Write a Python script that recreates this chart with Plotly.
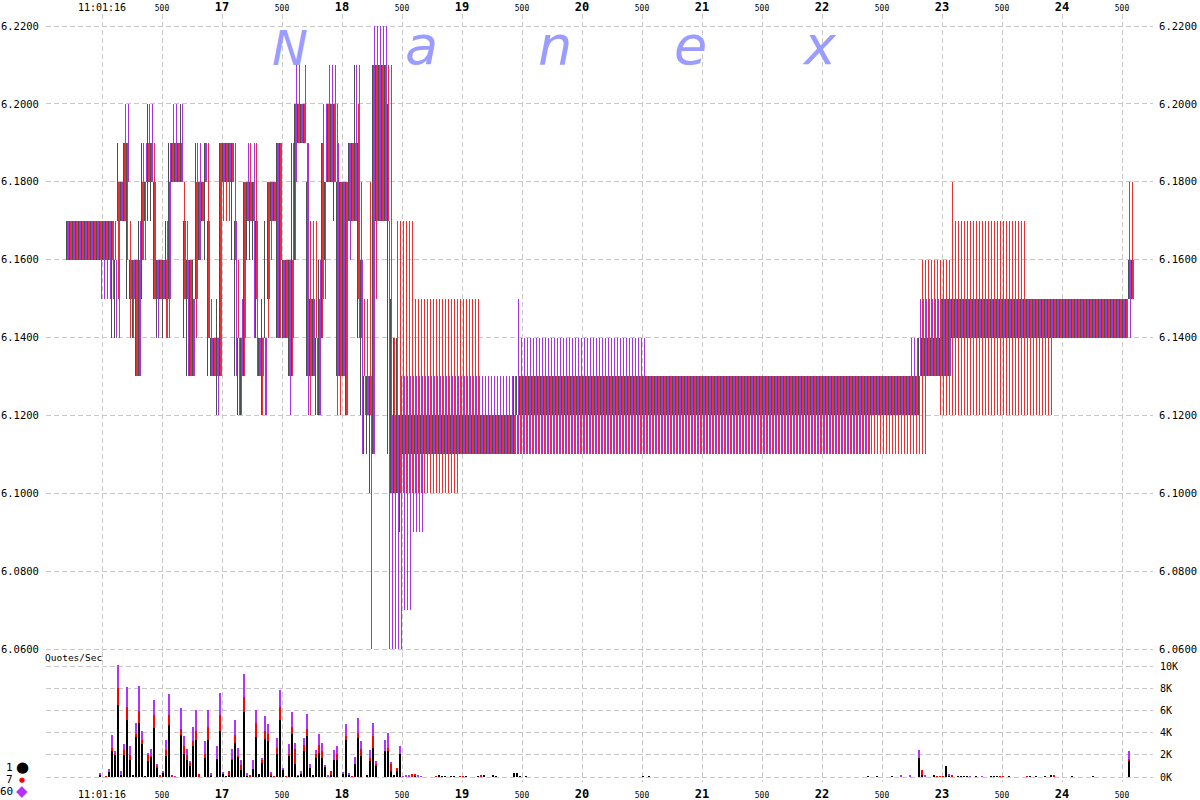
import plotly.graph_objects as go

# ---- price data, in cents above $6.00, one 25 ms bucket per entry -----------
# opening stretch: (bucket count, low, high)
GRAY_OPEN = [(15,16,17)]
RED_OPEN = [(15,16,17)]
PURPLE_OPEN = [(11,16,17),(4,15,17)]

# busy stretch, bucket by bucket: gray low, high, red low, high, purple low, high
BUSY = [
 (14,17,16,17,15,17),(14,16,16,17,14,16),(17,19,15,18,14,18),(17,18,17,18,17,18),(17,19,17,19,17,20),(15,19,16,19,18,20),
 (15,16,14,17,15,16),(14,16,14,16,15,16),(13,16,13,16,13,16),(13,17,13,16,13,17),(15,19,16,18,16,19),(17,18,16,18,18,19),
 (17,20,18,19,18,20),(17,19,18,19,18,20),(15,18,15,19,15,18),(14,16,15,16,14,16),(15,16,15,16,15,16),(14,16,15,16,15,16),
 (15,17,14,16,14,17),(15,19,14,18,15,19),(18,19,18,19,18,20),(18,19,18,19,18,20),(18,19,18,19,18,19),(18,20,18,19,18,20),
 (14,17,15,18,15,17),(13,16,15,17,13,16),(13,16,13,16,13,16),(13,16,13,15,13,15),(15,19,14,18,15,19),(16,18,16,18,16,19),
 (17,18,17,18,17,18),(16,19,18,19,18,19),(13,17,14,19,14,17),(13,14,13,15,13,14),(13,14,13,14,13,14),(12,15,13,14,12,14),
 (13,19,13,19,13,19),(18,19,17,19,18,19),(18,19,17,19,18,19),(18,19,17,19,18,19),(16,19,18,19,18,19),(13,17,16,19,13,17),
 (12,14,14,16,12,14),(12,14,12,14,13,15),(13,18,13,18,14,18),(16,18,17,18,17,19),(16,18,17,19,17,18),(16,18,17,18,14,19),
 (14,17,15,19,13,17),(13,14,13,14,13,14),(12,15,12,14,13,14),(14,17,12,14,12,14),(15,18,14,18,15,18),(17,18,16,18,17,18),
 (17,18,17,18,17,18),(14,19,14,19,14,19),(14,19,14,19,16,19),(14,16,14,16,14,16),(14,16,14,16,14,16),(13,16,13,16,12,16),
 (13,19,13,16,14,19),(16,20,16,20,18,21),(19,20,19,20,19,21),(19,20,19,20,19,20),(19,20,19,20,19,21),(13,18,13,19,12,19),
 (13,15,12,17,13,15),(13,15,13,17,13,15),(12,14,14,17,12,14),(12,16,12,15,12,16),(14,19,14,19,15,20),(16,18,15,18,18,20),
 (18,20,18,20,18,21),(18,20,18,20,18,21),(17,20,18,20,18,21),(13,18,12,20,13,19),(13,18,12,18,13,18),(13,18,13,18,13,18),
 (12,18,12,18,12,18),(17,19,17,19,16,19),(17,19,17,19,17,19),(17,21,17,19,17,21),(14,19,15,20,14,21),(12,16,14,18,11,16),
 (11,13,13,15,12,13),(11,13,12,15,12,13),(10,13,12,18,6,13),(11,21,11,21,11,22),(17,21,15,21,17,22),(17,21,17,21,17,22),
 (17,21,17,21,17,22),(17,21,17,21,17,22),(11,20,17,21,6,17),(10,15,10,21,6,12),(10,14,10,14,6,12),(10,14,10,17,6,12),
 (9,12,10,17,6,13)]

# quiet stretch: (bucket count, low, high)
GRAY_REST = [(37,11,12),(1,11,13),(134,12,13),(1,12,14),(7,13,14),(3,13,15),(59,14,15),(2,15,16)]
RED_REST = [(4,10,17),(15,10,15),(7,11,15),(13,11,12),(134,11,13),(2,11,16),(4,13,16),(4,12,16),(1,12,18),(24,12,17),(9,12,15),(25,14,15),(2,15,18)]
PURPLE_REST = [(3,7,13),(4,9,13),(31,11,13),(1,11,15),(42,11,14),(75,11,13),(13,12,13),(3,12,14),(8,13,15),(3,13,15),(59,14,15),(1,14,16),(1,15,16)]

# ---- quotes per second, in thousands: (bucket, black, red, purple) ----------
QUOTES = [(11,.2,0,.1),(13,0,.08,0),(14,.45,0,.3),(15,2.3,.3,1.15),(16,2.0,.05,.3),(17,6.5,1.55,2.05),(18,.2,0,.3),(19,2.0,.45,.55),(20,5.1,1.2,1.85),
 (21,1.5,.5,.8),(22,.2,0,0),(23,3.6,.3,1.0),(24,4.85,1.1,2.25),(25,3.0,.35,.8),(26,.08,0,0),(27,1.4,.6,.1),(28,1.85,.05,.65),(29,4.45,1.15,1.35),
 (30,.85,.15,.2),(31,.08,.1,0),(32,.35,0,.2),(33,1.9,.55,.9),(34,4.7,.9,1.9),(35,0,.1,0),(36,0,0,.05),(38,3.8,.55,1.9),(39,2.1,.65,.9),(40,1.55,.45,.55),
 (41,.95,.35,.1),(42,2.75,.45,1.35),(43,3.35,.8,1.9),(44,0,.3,0),(46,1.75,.35,1.15),(47,3.35,1.15,1.55),(48,.1,.1,.2),(50,1.65,0,1.1),(51,4.1,1.45,2.05),
 (52,.3,0,.1),(53,.08,0,0),(54,.2,.35,0),(55,1.6,.05,.9),(56,3.1,.7,1.35),(57,1.85,.05,.7),(58,.65,.45,.45),(59,5.9,1.35,2.05),(60,.1,0,.25),(61,0,.2,0),
 (62,.75,0,.8),(63,3.6,1.25,1.15),(64,.3,0,0),(65,1.25,.3,.2),(66,3.4,.75,1.35),(67,3.2,.7,.9),(68,.08,.25,.1),(69,0,.08,0),(70,2.1,.55,.9),(71,5.1,1.25,1.45),
 (72,.65,0,.2),(73,0,.08,0),(74,1.85,.25,.9),(75,3.9,.65,1.35),(76,1.2,1.35,.55),(77,.1,0,.08),(78,.3,0,.2),(79,2.3,.55,.7),(80,3.65,.65,1.35),(81,.85,0,.3),
 (82,.1,0,0),(83,1.75,.35,.35),(84,2.2,.65,1.0),(85,1.75,.55,.8),(86,.95,0,.1),(87,.08,0,.1),(88,.2,.35,0),(89,1.5,0,.9),(90,1.55,.55,.65),(92,.3,0,.1),
 (93,3.35,.3,1.15),(94,.2,0,.1),(95,0,.08,0),(96,1.2,0,.6),(97,3.5,.45,1.35),(98,1.9,.65,.65),(100,.2,0,0),(101,1.4,.35,.7),(102,2.65,1.0,1.25),(103,.95,.25,.2),
 (106,2.35,0,1.0),(107,2.35,.3,1.35),(108,.55,.65,.1),(109,.1,0,0),(110,.5,.35,0),(111,2.1,0,.7),(112,0,0,.08),(113,.08,0,.08),(114,0,0,.1),(115,0,.3,0),
 (116,.1,.2,0),(117,.08,0,.08),(118,0,0,.08),(123,0,.08,0),(124,.1,0,0),(125,.08,0,0),(126,.08,0,0),(128,.08,0,0),(129,.08,0,0),(131,0,.08,0),(132,0,.08,0),
 (133,.08,0,0),(137,.08,0,0),(138,0,.1,0),(139,.1,0,0),(142,.1,0,0),(143,.08,0,0),(149,.35,0,0),(150,.35,0,0),(151,.08,0,0),(153,.08,0,0),(192,.08,0,0),(194,.08,0,0),
 (267,.08,0,0),(270,.08,0,0),(275,.08,0,0),(278,.08,0,.08),(281,.08,0,.08),(284,1.75,0,.7),(285,.2,.4,0),(286,.08,0,.1),(289,.2,0,0),(290,0,.08,0),(291,0,.08,0),
 (292,0,.08,0),(293,.95,0,0),(294,.1,0,.2),(295,0,.2,0),(297,.08,0,0),(298,.08,0,0),(299,.08,0,0),(300,.08,0,0),(301,0,0,.08),(303,.08,0,0),(305,0,0,.08),
 (308,.08,0,0),(309,.08,0,0),(310,.08,0,0),(311,0,.08,0),(312,0,.08,0),(314,.08,0,0),(320,0,.08,0),(321,.08,0,0),(323,.08,0,0),(326,.08,0,0),(328,.15,0,0),
 (329,0,.1,0),(335,.08,0,0),(342,.08,0,0),(354,1.45,.2,.7)]

PRICE_TICKS = [6.06,6.08,6.10,6.12,6.14,6.16,6.18,6.20,6.22]
QUOTE_TICKS = [0,2,4,6,8,10]
TIME_TICKS = [16+0.5*k for k in range(18)]
TIME_LABELS = ["11:01:16"]
for sec in range(16,25):
    if sec > 16:
        TIME_LABELS.append(str(sec))
    TIME_LABELS.append("500")
LOGO_LETTERS = ["N","a","n","e","x"]
LEGEND_LABELS = ["1","7","60"]

T0, STEP = 15.7, 0.025     # first bucket time, bucket length (s)
PX = 1/120                 # seconds covered by one screen pixel column

def expand(runs):
    lo, hi = [], []
    for n, a, b in runs:
        lo += [a]*n
        hi += [b]*n
    return lo, hi

fig = go.Figure()
SERIES = [(GRAY_OPEN,GRAY_REST,"#4a5050"),(RED_OPEN,RED_REST,"#e63232"),(PURPLE_OPEN,PURPLE_REST,"#a832e6")]
for k, (op, rest, col) in enumerate(SERIES):
    l0, h0 = expand(op)
    l1, h1 = expand(rest)
    lo = l0 + [row[2*k] for row in BUSY] + l1
    hi = h0 + [row[2*k+1] for row in BUSY] + h1
    fig.add_trace(go.Bar(
        x=[T0+STEP*i for i in range(len(lo))],
        y=[(b-a)/100 for a,b in zip(lo,hi)], base=[6+a/100 for a in lo],
        width=PX, offset=k*PX, marker=dict(color=col, line=dict(width=0)),
        hoverinfo="skip", showlegend=False, xaxis="x", yaxis="y"))

xs = [T0+STEP*q[0] for q in QUOTES]
Q_BLACK = [q[1] for q in QUOTES]
Q_RED = [q[2] for q in QUOTES]
Q_PURPLE = [q[3] for q in QUOTES]
b1 = [a+b for a,b in zip(Q_BLACK,Q_RED)]
for vals, base, col in [(Q_BLACK,[0]*len(xs),"#000000"),(Q_RED,Q_BLACK,"#ff0000"),(Q_PURPLE,b1,"#b432ff")]:
    fig.add_trace(go.Bar(x=xs, y=vals, base=base, width=2*PX, offset=0,
        marker=dict(color=col, line=dict(width=0)), hoverinfo="skip", showlegend=False, xaxis="x", yaxis="y2"))

# invisible trace that keeps the top time axis and right price axis on the page
fig.add_trace(go.Scatter(x=[TIME_TICKS[0]], y=[PRICE_TICKS[-1]], mode="markers", marker=dict(opacity=0),
                         hoverinfo="skip", showlegend=False, xaxis="x2", yaxis="y3"))

W, H = 1200, 800
L, R, T, B = 46, 47, 14, 18
PW, PH = W-L-R, H-T-B
SPLIT = 652
def pxx(p): return (p-L)/PW
def pxy(p): return (H-B-p)/PH

xr = [16-(102-L)*PX, 16+(W-R-102)*PX]
per_px = 0.16/623
yr = [6.22-(SPLIT-26)*per_px, 6.22+(26-T)*per_px]
y2r = [-(H-B-777)/11.1, (777-SPLIT)/11.1]

GRID = "#c8c8c8"
CLEAR = "rgba(0,0,0,0)"
mono = "DejaVu Sans Mono"
def fmt_time(s):
    if s == "500": return '<span style="font-size:8px">500</span>'
    if ":" in s: return s
    return '<b style="font-size:12px">%s</b>' % s
ticktext = [fmt_time(s) for s in TIME_LABELS]
xcommon = dict(range=xr, tickmode="array", tickvals=TIME_TICKS, ticktext=ticktext, automargin=False,
               tickfont=dict(family=mono, size=10, color="#000"), zeroline=False, showline=False)
price_text = ["%.4f"%v for v in PRICE_TICKS]

fig.update_layout(
    template="none",
    width=W, height=H, autosize=False, barmode="overlay", bargap=0,
    margin=dict(l=L, r=R, t=T, b=B, pad=0),
    plot_bgcolor="#fff", paper_bgcolor="#fff", showlegend=False, hovermode=False,
    xaxis=dict(showgrid=True, gridcolor=GRID, griddash="5px,3px", gridwidth=1, anchor="y2", side="bottom",
               ticks="outside", ticklen=3, tickcolor=CLEAR, **xcommon),
    xaxis2=dict(showgrid=False, overlaying="x", side="top", anchor="y3", ticks="", **xcommon),
    yaxis=dict(domain=[pxy(SPLIT),1], range=yr, tickmode="array", tickvals=PRICE_TICKS, ticktext=price_text,
               showgrid=True, gridcolor=GRID, griddash="5px,3px", zeroline=False, ticks="outside", ticklen=4, tickcolor=CLEAR, automargin=False,
               tickfont=dict(family=mono, size=10.5, color="#000"), side="left", anchor="x"),
    yaxis3=dict(overlaying="y", range=yr, tickmode="array", tickvals=PRICE_TICKS, ticktext=price_text,
               showgrid=False, zeroline=False, ticks="outside", ticklen=3, tickcolor=CLEAR, automargin=False,
               tickfont=dict(family=mono, size=10.5, color="#000"), side="right", anchor="x2"),
    yaxis2=dict(domain=[0,pxy(SPLIT)], range=y2r, tickmode="array", tickvals=QUOTE_TICKS, ticktext=["%dK"%v for v in QUOTE_TICKS],
               showgrid=True, gridcolor=GRID, griddash="5px,3px", zeroline=False, ticks="outside", ticklen=4, tickcolor=CLEAR, automargin=False,
               tickfont=dict(family=mono, size=10, color="#000"), side="right", anchor="x"),
)

anns = []
for letter, px, sz, py in zip(LOGO_LETTERS, [290,421,555,690,819], [48,54,54,54,54], [48,46,46,46,46]):
    anns.append(dict(text="<i>%s</i>" % letter, xref="paper", yref="paper", x=pxx(px), y=pxy(py), showarrow=False,
                     font=dict(family="DejaVu Sans", size=sz, color="#9a9cff"), xanchor="center", yanchor="middle"))
anns.append(dict(text="Quotes/Sec", xref="paper", yref="paper", x=pxx(43), y=pxy(657), showarrow=False,
                 font=dict(family=mono, size=9.5, color="#000"), xanchor="left", yanchor="middle"))
for lab, py, g, col, sz, gy in [(LEGEND_LABELS[0],767,"●","#000",15,767),(LEGEND_LABELS[1],779,"●","#f00",7,780),(LEGEND_LABELS[2],791,"◆","#b432ff",15,791)]:
    anns.append(dict(text=lab, xref="paper", yref="paper", x=pxx(15), y=pxy(py), showarrow=False,
                     font=dict(family=mono, size=11, color="#000"), xanchor="right", yanchor="middle"))
    anns.append(dict(text=g, xref="paper", yref="paper", x=pxx(22), y=pxy(gy), showarrow=False,
                     font=dict(family="DejaVu Sans", size=sz, color=col), xanchor="center", yanchor="middle"))
fig.update_layout(annotations=anns)

fig.write_html("out.html", config={"displayModeBar": False},
               post_script="document.body.style.margin='0';document.documentElement.style.overflow='hidden';")
